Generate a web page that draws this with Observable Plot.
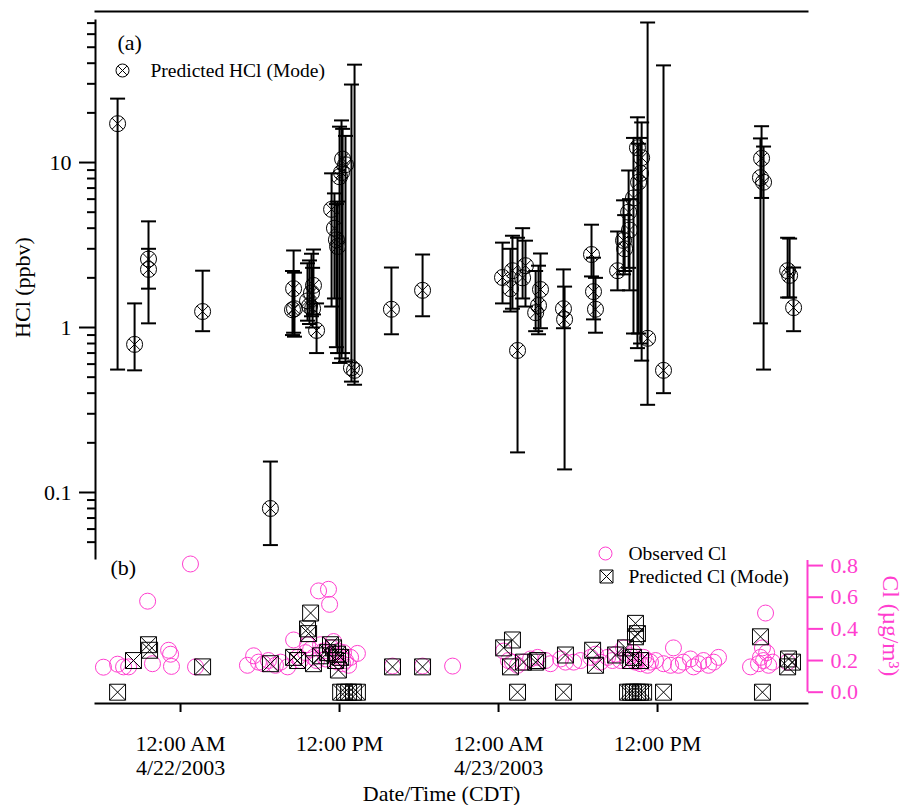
<!DOCTYPE html>
<html><head><meta charset="utf-8">
<script src="https://cdn.jsdelivr.net/npm/d3@7"></script>
<script src="https://cdn.jsdelivr.net/npm/@observablehq/plot@0.6"></script>
<style>
body{margin:0;background:#fff}
#wrap{position:relative;width:911px;height:805px}
#wrap svg{position:absolute;left:0;top:0}
</style>
</head><body><div id="wrap"></div>
<script>
// ---- data ----
const xDomainStr = ["2003-04-21 17:35", "2003-04-23 23:19"];
const xTickStr = ["2003-04-22 00:00", "2003-04-22 12:00", "2003-04-23 00:00", "2003-04-23 12:00"];

const hclDomain = [0.0398, 72.6];
const hclMajorTicks = [0.1, 1, 10];
const hclMinorTicks = [0.05,0.06,0.07,0.08,0.09,0.2,0.3,0.4,0.5,0.6,0.7,0.8,0.9,2,3,4,5,6,7,8,9,20,30,40,50,60,70];

const hclTime = [
 "2003-04-21 19:15","2003-04-21 20:32","2003-04-21 21:35","2003-04-21 21:35","2003-04-22 01:40",
 "2003-04-22 06:47","2003-04-22 08:32","2003-04-22 08:36","2003-04-22 08:27","2003-04-22 09:35",
 "2003-04-22 09:44","2003-04-22 09:53","2003-04-22 10:02","2003-04-22 10:16","2003-04-22 09:58",
 "2003-04-22 11:24","2003-04-22 11:37","2003-04-22 11:46","2003-04-22 11:51","2003-04-22 12:00",
 "2003-04-22 12:09","2003-04-22 12:14","2003-04-22 12:27","2003-04-22 12:54","2003-04-22 13:08",
 "2003-04-22 15:55","2003-04-22 18:16",
 "2003-04-23 00:18","2003-04-23 01:03","2003-04-23 00:54","2003-04-23 01:26","2003-04-23 01:49",
 "2003-04-23 02:02","2003-04-23 03:10","2003-04-23 03:01","2003-04-23 02:48","2003-04-23 04:54",
 "2003-04-23 04:59","2003-04-23 07:01","2003-04-23 07:10","2003-04-23 07:19","2003-04-23 08:59",
 "2003-04-23 09:26","2003-04-23 09:31","2003-04-23 09:49","2003-04-23 10:11","2003-04-23 10:29",
 "2003-04-23 10:48","2003-04-23 10:43","2003-04-23 10:34","2003-04-23 11:15","2003-04-23 12:27",
 "2003-04-23 09:53","2003-04-23 19:51","2003-04-23 19:46","2003-04-23 20:00","2003-04-23 21:49",
 "2003-04-23 21:58","2003-04-23 22:16"
];
const hclMode = [
 17.2,0.79,2.6,2.25,1.25,
 0.08,1.72,1.30,1.28,1.45,
 1.35,1.62,1.80,0.96,1.30,
 5.2,4.0,3.4,3.1,8.2,
 8.7,10.5,9.7,0.57,0.55,
 1.29,1.68,
 2.01,2.21,1.72,0.726,2.0,
 2.37,1.70,1.36,1.23,1.30,
 1.12,2.77,1.65,1.29,2.21,
 3.37,3.0,5.0,6.1,12.3,
 10.7,8.6,7.6,0.86,0.55,
 3.9,10.6,8.1,7.6,2.21,
 2.07,1.32
];
const hclLow = [
 0.556,0.55,1.06,1.72,0.95,
 0.048,0.93,0.88,0.90,1.10,
 1.05,1.17,1.20,0.70,1.00,
 1.34,1.50,0.76,0.70,0.61,
 0.65,0.70,0.62,0.47,0.45,
 0.91,1.17,
 1.40,1.30,1.25,0.175,1.50,
 1.34,0.99,0.91,0.95,0.99,
 0.138,2.04,1.12,0.93,1.68,
 2.10,2.20,2.30,0.92,0.75,
 0.63,0.80,0.92,0.34,0.40,
 1.68,6.1,1.06,0.556,1.52,
 1.52,0.95
];
const hclHigh = [
 24.4,1.40,4.4,3.0,2.21,
 0.154,2.93,2.15,2.20,2.45,
 2.55,2.80,2.97,1.40,2.30,
 8.6,6.5,5.6,5.8,16.5,
 18.0,16.0,14.5,29.7,39.2,
 2.31,2.77,
 3.27,3.6,3.0,3.5,4.0,
 3.36,2.81,2.37,2.2,2.25,
 1.77,4.2,2.65,2.0,3.82,
 5.9,4.8,8.95,14.1,18.8,
 17.5,14.1,13.0,70.6,38.8,
 6.0,16.6,14.0,12.5,3.5,
 3.46,2.31
];

const clDomain = [-0.0714, 0.832];
const clTicks = [0, 0.2, 0.4, 0.6, 0.8];

const obsTime = [
 "2003-04-21 18:11","2003-04-21 19:15","2003-04-21 19:42","2003-04-21 20:05","2003-04-21 21:31",
 "2003-04-21 21:53","2003-04-21 23:06","2003-04-21 23:15","2003-04-21 23:19","2003-04-22 00:45",
 "2003-04-22 01:08","2003-04-22 05:03","2003-04-22 05:31","2003-04-22 05:53","2003-04-22 06:16",
 "2003-04-22 06:38","2003-04-22 07:10","2003-04-22 07:33","2003-04-22 08:05","2003-04-22 08:32",
 "2003-04-22 08:50","2003-04-22 09:03","2003-04-22 09:26","2003-04-22 09:35","2003-04-22 09:49",
 "2003-04-22 10:02","2003-04-22 10:16","2003-04-22 10:25","2003-04-22 10:34","2003-04-22 10:47",
 "2003-04-22 10:57","2003-04-22 11:10","2003-04-22 11:15","2003-04-22 11:24","2003-04-22 11:33",
 "2003-04-22 11:42","2003-04-22 11:51","2003-04-22 11:55","2003-04-22 12:05","2003-04-22 12:14",
 "2003-04-22 12:18","2003-04-22 12:27","2003-04-22 12:41","2003-04-22 12:50","2003-04-22 13:21",
 "2003-04-22 16:00","2003-04-22 18:16","2003-04-22 20:32",
 "2003-04-23 00:23","2003-04-23 00:45","2003-04-23 01:03","2003-04-23 01:26","2003-04-23 01:53",
 "2003-04-23 02:25","2003-04-23 02:57","2003-04-23 03:33","2003-04-23 03:55","2003-04-23 04:41",
 "2003-04-23 05:03","2003-04-23 05:40","2003-04-23 06:11","2003-04-23 06:57","2003-04-23 07:19",
 "2003-04-23 07:42","2003-04-23 08:14","2003-04-23 08:36","2003-04-23 08:50","2003-04-23 09:12",
 "2003-04-23 09:26","2003-04-23 09:44","2003-04-23 09:58","2003-04-23 10:11","2003-04-23 10:20",
 "2003-04-23 10:29","2003-04-23 10:43","2003-04-23 10:57","2003-04-23 11:06","2003-04-23 11:15",
 "2003-04-23 11:28","2003-04-23 11:51","2003-04-23 12:27","2003-04-23 12:59","2003-04-23 13:12",
 "2003-04-23 13:35","2003-04-23 13:57","2003-04-23 14:29","2003-04-23 14:43","2003-04-23 15:06",
 "2003-04-23 15:28","2003-04-23 15:51","2003-04-23 16:14","2003-04-23 16:36","2003-04-23 19:01",
 "2003-04-23 19:37","2003-04-23 19:46","2003-04-23 19:55","2003-04-23 20:00","2003-04-23 20:09",
 "2003-04-23 20:14","2003-04-23 20:23","2003-04-23 20:41","2003-04-23 21:49"
];
const obsCl = [
 0.158,0.177,0.16,0.16,0.575,
 0.18,0.265,0.24,0.163,0.81,
 0.16,0.17,0.23,0.19,0.18,
 0.2,0.17,0.19,0.16,0.33,
 0.22,0.2,0.25,0.3,0.27,
 0.22,0.2,0.64,0.3,0.26,
 0.21,0.65,0.555,0.28,0.32,
 0.24,0.19,0.26,0.22,0.18,
 0.25,0.2,0.17,0.22,0.245,
 0.165,0.165,0.165,
 0.26,0.2,0.19,0.17,0.19,
 0.21,0.22,0.2,0.18,0.21,
 0.19,0.19,0.2,0.22,0.24,
 0.19,0.22,0.2,0.24,0.2,
 0.28,0.2,0.23,0.25,0.19,
 0.2,0.18,0.22,0.2,0.17,
 0.19,0.2,0.18,0.17,0.28,
 0.17,0.19,0.21,0.16,0.18,
 0.2,0.17,0.19,0.22,0.16,
 0.18,0.22,0.28,0.2,0.5,
 0.25,0.17,0.19,0.19
];

const predTime = [
 "2003-04-21 19:15","2003-04-21 20:27","2003-04-21 21:35","2003-04-21 21:40","2003-04-22 01:40",
 "2003-04-22 06:47","2003-04-22 08:32","2003-04-22 08:50","2003-04-22 09:35","2003-04-22 09:40",
 "2003-04-22 09:49","2003-04-22 10:02","2003-04-22 10:34","2003-04-22 11:06","2003-04-22 11:19",
 "2003-04-22 11:33","2003-04-22 11:42","2003-04-22 11:51","2003-04-22 11:55","2003-04-22 12:05",
 "2003-04-22 12:05","2003-04-22 12:23","2003-04-22 12:41","2003-04-22 13:03","2003-04-22 13:21",
 "2003-04-22 16:00","2003-04-22 18:16",
 "2003-04-23 00:23","2003-04-23 01:03","2003-04-23 00:54","2003-04-23 01:26","2003-04-23 01:53",
 "2003-04-23 02:48","2003-04-23 02:57","2003-04-23 04:54","2003-04-23 05:03","2003-04-23 07:06",
 "2003-04-23 07:19","2003-04-23 08:50","2003-04-23 09:35","2003-04-23 10:20","2003-04-23 10:20",
 "2003-04-23 10:29","2003-04-23 09:58","2003-04-23 10:11","2003-04-23 10:43","2003-04-23 09:44",
 "2003-04-23 09:58","2003-04-23 10:11","2003-04-23 10:29","2003-04-23 10:43","2003-04-23 10:57",
 "2003-04-23 12:27","2003-04-23 19:46","2003-04-23 19:55","2003-04-23 21:53","2003-04-23 22:11",
 "2003-04-23 21:49"
];
const predCl = [
 0.0,0.2,0.3,0.265,0.16,
 0.18,0.22,0.2,0.40,0.37,
 0.5,0.18,0.23,0.25,0.3,
 0.28,0.2,0.24,0.14,0.22,
 0.0,0.0,0.0,0.0,0.0,
 0.16,0.16,
 0.28,0.33,0.16,0.0,0.19,
 0.19,0.2,0.0,0.235,0.265,
 0.17,0.235,0.28,0.435,0.35,
 0.37,0.2,0.22,0.2,0.0,
 0.0,0.0,0.0,0.0,0.0,
 0.0,0.35,0.0,0.21,0.19,
 0.16
];

// ---- build ----
const PINK = "#ff3ecf";
const FONT = "'Liberation Serif', 'Times New Roman', serif";
const parse = d3.timeParse("%Y-%m-%d %H:%M");
const xDomain = xDomainStr.map(parse);
const xTicks = xTickStr.map(parse);
const hcl = hclTime.map((t, i) => ({time: parse(t), mode: hclMode[i], low: hclLow[i], high: hclHigh[i]}));
const obs = obsTime.map((t, i) => ({time: parse(t), cl: obsCl[i]}));
const pred = predTime.map((t, i) => ({time: parse(t), cl: predCl[i]}));

const capSymbol = {draw(ctx, size) { const r = Math.sqrt(size / Math.PI); ctx.moveTo(-r, 0); ctx.lineTo(r, 0); }};
const svgStyle = {fontFamily: FONT, background: "transparent", overflow: "visible"};
const lbl = {lineAnchor: "middle", textAnchor: "start"};

const topChart = Plot.plot({
  width: 911, height: 560, marginLeft: 95, marginRight: 104, marginTop: 20, marginBottom: 2,
  style: svgStyle,
  x: {type: "time", domain: xDomain, axis: null},
  y: {type: "log", domain: hclDomain, axis: null},
  marks: [
    Plot.axisY({ticks: hclMajorTicks, tickSize: 16, tickPadding: 8, tickFormat: d => String(d), fontSize: 22, strokeWidth: 2, label: null}),
    Plot.axisY({ticks: hclMinorTicks, tickSize: 8, tickFormat: () => "", strokeWidth: 2, label: null}),
    Plot.frame({anchor: "left", strokeWidth: 2}),
    Plot.frame({anchor: "top", strokeWidth: 2, dy: -9}),
    Plot.text(["HCl (ppbv)"], {frameAnchor: "left", dx: -73, dy: -2, rotate: -90, textAnchor: "middle", lineAnchor: "middle", fontSize: 22}),
    Plot.ruleX(hcl, {x: "time", y1: "low", y2: "high", stroke: "black", strokeWidth: 2}),
    Plot.dot(hcl, {x: "time", y: "low", symbol: capSymbol, r: 7.5, stroke: "black", strokeWidth: 2}),
    Plot.dot(hcl, {x: "time", y: "high", symbol: capSymbol, r: 7.5, stroke: "black", strokeWidth: 2}),
    Plot.dot(hcl, {x: "time", y: "mode", r: 8, stroke: "black", strokeWidth: 1}),
    Plot.dot(hcl, {x: "time", y: "mode", symbol: "times", r: 5, stroke: "black", strokeWidth: 1}),
    Plot.text(["(a)"], {frameAnchor: "top-left", dx: 22, dy: 22, fontSize: 22, ...lbl}),
    Plot.dot([0], {frameAnchor: "top-left", dx: 27, dy: 50, r: 6.5, stroke: "black", strokeWidth: 1}),
    Plot.dot([0], {frameAnchor: "top-left", dx: 27, dy: 50, symbol: "times", r: 4, stroke: "black", strokeWidth: 1}),
    Plot.text(["Predicted HCl (Mode)"], {frameAnchor: "top-left", dx: 55, dy: 50, fontSize: 19.5, ...lbl})
  ]
});

const fmtTick = d => d3.timeFormat("%I:%M %p")(d) + (d.getHours() === 0 ? "\n" + d3.timeFormat("%-m/%-d/%Y")(d) : "");

const bottomChart = Plot.plot({
  width: 911, height: 805, marginLeft: 95, marginRight: 104, marginTop: 560, marginBottom: 102,
  style: svgStyle,
  x: {type: "time", domain: xDomain, axis: null},
  y: {domain: clDomain, axis: null},
  marks: [
    Plot.ruleX([xDomain[1]], {y1: clTicks[0], y2: clDomain[1], stroke: PINK, strokeWidth: 2}),
    Plot.axisY({anchor: "right", ticks: clTicks, tickFormat: d3.format(".1f"), tickSize: 15, tickPadding: 8, color: PINK, fontSize: 22, strokeWidth: 2, label: null}),
    Plot.frame({anchor: "bottom", strokeWidth: 2}),
    Plot.axisX({ticks: xTicks, tickFormat: fmtTick, tickSize: 9, tickPadding: 21, fontSize: 22, lineHeight: 1.09, strokeWidth: 2, label: null}),
    Plot.text(["Date/Time (CDT)"], {frameAnchor: "bottom", dx: -10, dy: 90, textAnchor: "middle", lineAnchor: "middle", fontSize: 22}),
    Plot.text(["Cl (µg/m³)"], {frameAnchor: "right", dx: 83, dy: -6, rotate: 90, textAnchor: "middle", lineAnchor: "middle", fill: PINK, fontSize: 23.5}),
    Plot.dot(obs, {x: "time", y: "cl", r: 8, stroke: PINK, strokeWidth: 1}),
    Plot.dot(pred, {x: "time", y: "cl", symbol: "square", r: 9, stroke: "black", strokeWidth: 1}),
    Plot.dot(pred, {x: "time", y: "cl", symbol: "times", r: 7.3, stroke: "black", strokeWidth: 1}),
    Plot.text(["(b)"], {frameAnchor: "top-left", dx: 15, dy: 7, fontSize: 22, ...lbl}),
    Plot.dot([0], {frameAnchor: "top-left", dx: 510, dy: -7, r: 6.5, stroke: PINK, strokeWidth: 1}),
    Plot.text(["Observed Cl"], {frameAnchor: "top-left", dx: 533, dy: -7, fontSize: 19.5, ...lbl}),
    Plot.dot([0], {frameAnchor: "top-left", dx: 511, dy: 16, symbol: "square", r: 7.33, stroke: "black", strokeWidth: 1}),
    Plot.dot([0], {frameAnchor: "top-left", dx: 511, dy: 16, symbol: "times", r: 6, stroke: "black", strokeWidth: 1}),
    Plot.text(["Predicted Cl (Mode)"], {frameAnchor: "top-left", dx: 533, dy: 16, fontSize: 19.5, ...lbl})
  ]
});

const wrap = document.getElementById("wrap");
wrap.appendChild(topChart);
wrap.appendChild(bottomChart);
</script>
</body></html>
